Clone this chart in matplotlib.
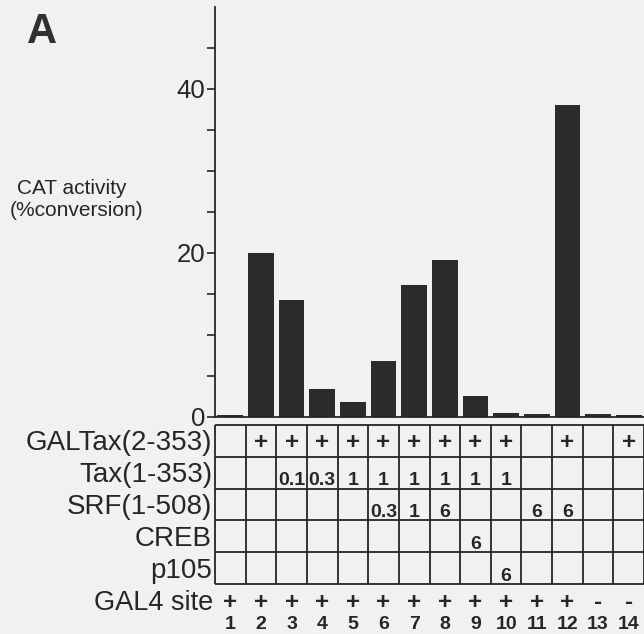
import matplotlib
matplotlib.use("Agg")
import matplotlib.pyplot as plt
import numpy as np

plt.rcParams['font.family'] = ['Liberation Sans', 'DejaVu Sans']

# ---- data ----
lanes = list(range(1, 15))
cat_activity = [0.3, 20.0, 14.3, 3.4, 1.8, 6.8, 16.1, 19.1, 2.6, 0.5, 0.35, 38.0, 0.35, 0.3]
yticks_labeled = [0, 20, 40]

row_labels = ["GALTax(2-353)", "Tax(1-353)", "SRF(1-508)", "CREB", "p105"]
galtax = ["", "+", "+", "+", "+", "+", "+", "+", "+", "+", "", "+", "", "+"]
tax = ["", "", "0.1", "0.3", "1", "1", "1", "1", "1", "1", "", "", "", ""]
srf = ["", "", "", "", "", "0.3", "1", "6", "", "", "6", "6", "", ""]
creb = ["", "", "", "", "", "", "", "", "6", "", "", "", "", ""]
p105 = ["", "", "", "", "", "", "", "", "", "6", "", "", "", ""]
gal4_site = ["+"] * 12 + ["-", "-"]

ylabel_lines = ["CAT activity", "(%conversion)"]
panel_letter = "A"

# ---- layout ----
W, H = 644, 634
bg = '#f1f1f1'
ink = '#262626'
fig = plt.figure(figsize=(W / 100, H / 100), dpi=100, facecolor=bg)


def px(x0, y0, x1, y1):
    return [x0 / W, 1 - y1 / H, (x1 - x0) / W, (y1 - y0) / H]


ax = fig.add_axes(px(215, 7, 644, 417))
ax.set_facecolor(bg)
ax.bar(lanes, cat_activity, width=0.84, color='#2b2b2b', edgecolor='none')
ax.set_xlim(0.5, 14.5)
ax.set_ylim(0, 50)
ax.set_yticks(np.arange(0, 50, 5))
ax.set_yticklabels([str(t) if t in yticks_labeled else "" for t in np.arange(0, 50, 5)])
ax.set_xticks([])
for s in ['top', 'right']:
    ax.spines[s].set_visible(False)
for s in ['left', 'bottom']:
    ax.spines[s].set_linewidth(1.3)
    ax.spines[s].set_color(ink)
ax.tick_params(axis='y', direction='out', length=6, width=1.2, color=ink,
               labelsize=18.5, labelcolor=ink, pad=1)

# table axes (row units: ~32 px each)
tab_top, tab_bot = 425, 634
rowpx = 31.8
ax2 = fig.add_axes(px(215, tab_top, 644, tab_bot))
ax2.set_xlim(0.5, 14.5)
ax2.set_ylim((tab_bot - tab_top) / rowpx, 0)
ax2.axis('off')

nrows = len(row_labels)
lw = 1.3
for x in np.arange(0.5, 15.0, 1.0):
    ax2.plot([x, x], [0, nrows], color=ink, lw=lw, clip_on=False, solid_capstyle='butt')
for y in range(nrows + 1):
    ax2.plot([0.5, 14.5], [y, y], color=ink, lw=lw, clip_on=False, solid_capstyle='butt')

colpx = (644 - 215) / 14.0
label_x = 0.5 - 3 / colpx
table_rows = [galtax, tax, srf, creb, p105]
for i, (lab, vals) in enumerate(zip(row_labels, table_rows)):
    ax2.text(label_x, i + 0.5 + 9.5 / rowpx, lab, ha='right', va='baseline',
             fontsize=20, color=ink, clip_on=False)
    for lane, v in zip(lanes, vals):
        if not v:
            continue
        if v == "+":
            ax2.text(lane, i + 0.5 + 8.5 / rowpx, v, ha='center', va='baseline',
                     fontsize=17.5, fontweight='bold', color=ink)
        else:
            ax2.text(lane, i + 0.5 + 12.5 / rowpx, v, ha='center', va='baseline',
                     fontsize=14, fontweight='bold', color=ink)

gal_y = (609 - tab_top) / rowpx
ax2.text(label_x + 0.03, gal_y + 0.5 / rowpx, "GAL4 site", ha='right', va='baseline',
         fontsize=19.5, color=ink, clip_on=False)
for lane, v in zip(lanes, gal4_site):
    ax2.text(lane, gal_y, v, ha='center', va='baseline',
             fontsize=17.5, fontweight='bold', color=ink, clip_on=False)
num_y = (629 - tab_top) / rowpx
for lane in lanes:
    ax2.text(lane, num_y, str(lane), ha='center', va='baseline',
             fontsize=14, fontweight='bold', color=ink, clip_on=False)

# y label and panel letter
fig.text(17 / W, 1 - 194 / H, ylabel_lines[0], ha='left', va='baseline',
         fontsize=15, color=ink)
fig.text(10 / W, 1 - 216 / H, ylabel_lines[1], ha='left', va='baseline',
         fontsize=15, color=ink)
fig.text(27 / W, 1 - 43 / H, panel_letter, ha='left', va='baseline',
         fontsize=30, fontweight='bold', color='#303030')

fig.savefig("out.png", dpi=100, facecolor=bg)
